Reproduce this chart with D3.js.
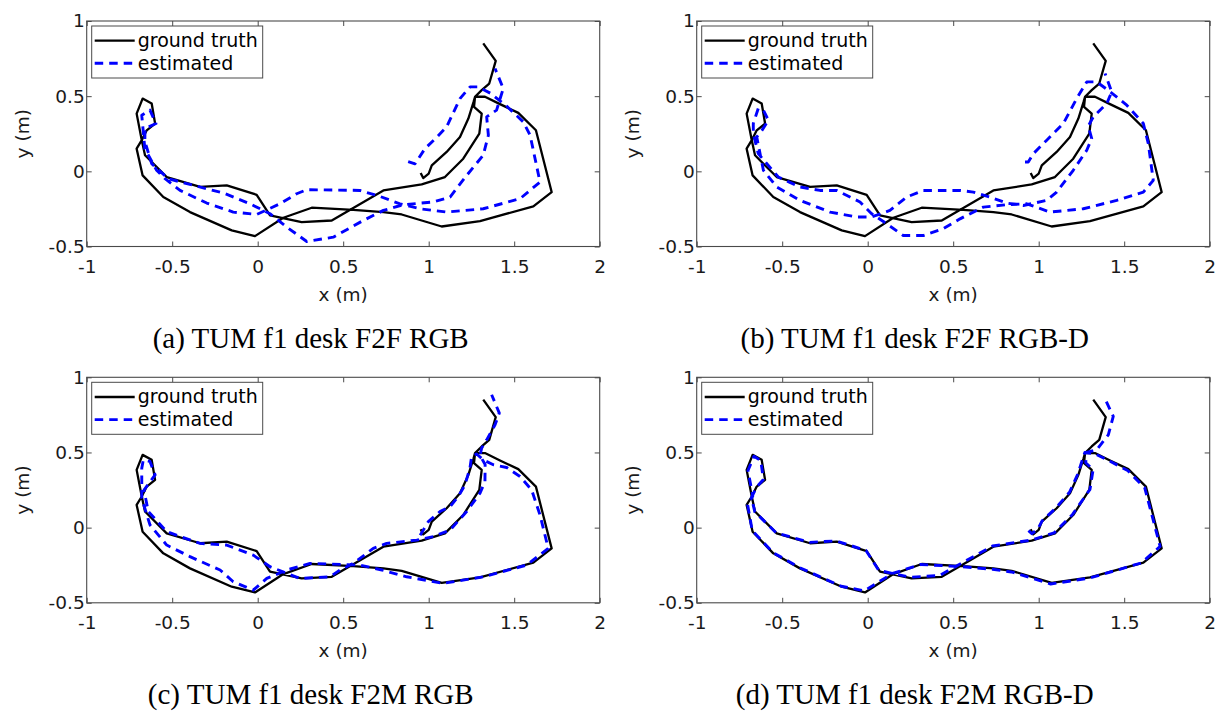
<!DOCTYPE html>
<html>
<head>
<meta charset="utf-8">
<script src="https://cdn.jsdelivr.net/npm/d3@7/dist/d3.min.js"></script>
<style>
  html, body { margin: 0; padding: 0; background: #fff; }
  svg { display: block; }
</style>
</head>
<body>
<script>
// Axis ticks and their labels
const xTicks = [-1, -0.5, 0, 0.5, 1, 1.5, 2];
const xTickLabels = ["-1", "-0.5", "0", "0.5", "1", "1.5", "2"];
const yTicks = [-0.5, 0, 0.5, 1];
const yTickLabels = ["-0.5", "0", "0.5", "1"];
const seriesNames = ["ground truth", "estimated"];
const captions = [
  "(a) TUM f1 desk F2F RGB",
  "(b) TUM f1 desk F2F RGB-D",
  "(c) TUM f1 desk F2M RGB",
  "(d) TUM f1 desk F2M RGB-D"
];

// Ground-truth camera trajectory (x, y in metres)
const groundTruth = [
  [0.953,-0.011],[0.968,-0.045],[1.0,-0.015],[1.018,0.04],[1.105,0.129],[1.183,0.229],
  [1.232,0.351],[1.262,0.46],[1.271,0.496],[1.329,0.496],[1.417,0.447],[1.524,0.389],
  [1.627,0.273],[1.719,-0.138],[1.612,-0.233],[1.3,-0.331],[1.076,-0.367],[0.842,-0.287],
  [0.735,-0.271],[0.559,-0.256],[0.316,-0.242],[0.15,-0.309],[-0.016,-0.431],[-0.152,-0.393],
  [-0.396,-0.271],[-0.552,-0.171],[-0.673,-0.027],[-0.708,0.151],[-0.678,0.207],[-0.708,0.384],
  [-0.673,0.484],[-0.62,0.451],[-0.60,0.318],[-0.649,0.273],[-0.678,0.207],[-0.659,0.107],
  [-0.532,-0.038],[-0.337,-0.104],[-0.181,-0.093],[-0.006,-0.156],[0.072,-0.293],[0.257,-0.338],
  [0.433,-0.327],[0.735,-0.127],[0.959,-0.087],[1.095,-0.038],[1.202,0.084],[1.296,0.251],
  [1.31,0.384],[1.265,0.429],[1.271,0.496],[1.31,0.54],[1.354,0.584],[1.392,0.735],[1.319,0.851]
];

// Estimated trajectory, frame-to-frame RGB
const estF2FRgb = [
  [0.88,0.065],[0.92,0.05],[0.978,0.151],[1.05,0.23],[1.105,0.296],[1.183,0.484],[1.242,0.562],
  [1.29,0.562],[1.36,0.52],[1.45,0.44],[1.553,0.329],[1.593,0.24],[1.651,-0.071],[1.534,-0.182],
  [1.319,-0.249],[1.105,-0.271],[0.949,-0.249],[0.832,-0.216],[0.715,-0.167],[0.598,-0.127],
  [0.287,-0.122],[0.228,-0.149],[0.13,-0.216],[-0.006,-0.287],[-0.143,-0.271],[-0.298,-0.211],
  [-0.454,-0.127],[-0.542,-0.049],[-0.591,0.007],[-0.66,0.15],[-0.678,0.373],[-0.63,0.407],
  [-0.595,0.318],[-0.659,0.284],[-0.66,0.2],[-0.62,0.051],[-0.523,-0.049],[-0.377,-0.093],
  [-0.201,-0.144],[-0.045,-0.216],[0.072,-0.282],[0.17,-0.371],[0.287,-0.467],[0.442,-0.438],
  [0.617,-0.327],[0.735,-0.26],[0.851,-0.222],[1.027,-0.204],[1.125,-0.171],[1.222,-0.027],
  [1.319,0.107],[1.349,0.24],[1.339,0.362],[1.397,0.407],[1.436,0.551],[1.388,0.684]
];

// Estimated trajectory, frame-to-frame RGB-D
const estF2FRgbd = [
  [0.92,0.062],[0.939,0.062],[0.969,0.118],[1.047,0.207],[1.144,0.318],[1.222,0.484],
  [1.281,0.595],[1.339,0.595],[1.417,0.53],[1.515,0.44],[1.612,0.318],[1.641,0.184],
  [1.67,-0.06],[1.612,-0.138],[1.456,-0.193],[1.261,-0.249],[1.066,-0.271],[0.93,-0.216],
  [0.813,-0.222],[0.676,-0.238],[0.54,-0.316],[0.442,-0.382],[0.325,-0.427],[0.208,-0.427],
  [0.111,-0.349],[0.023,-0.282],[-0.045,-0.204],[-0.181,-0.127],[-0.279,-0.127],[-0.396,-0.104],
  [-0.523,-0.038],[-0.64,0.118],[-0.669,0.25],[-0.669,0.318],[-0.64,0.418],[-0.61,0.407],
  [-0.581,0.34],[-0.62,0.27],[-0.649,0.229],[-0.61,0.007],[-0.532,-0.104],[-0.396,-0.193],
  [-0.22,-0.271],[-0.064,-0.304],[0.023,-0.304],[0.13,-0.26],[0.228,-0.171],[0.325,-0.127],
  [0.54,-0.127],[0.618,-0.138],[0.715,-0.171],[0.813,-0.211],[0.91,-0.227],[1.047,-0.193],
  [1.105,-0.138],[1.202,0.007],[1.281,0.14],[1.31,0.218],[1.29,0.3],[1.319,0.362],
  [1.398,0.451],[1.427,0.529],[1.388,0.651]
];

// Estimated trajectory, frame-to-model RGB
const estF2MRgb = [
  [0.95,-0.05],[0.998,0.04],[1.066,0.107],[1.125,0.14],[1.173,0.207],[1.212,0.284],
  [1.241,0.395],[1.251,0.473],[1.28,0.49],[1.32,0.45],[1.378,0.418],[1.456,0.4],
  [1.534,0.34],[1.602,0.251],[1.651,0.084],[1.699,-0.138],[1.573,-0.249],[1.319,-0.327],
  [1.085,-0.371],[0.871,-0.327],[0.72,-0.28],[0.598,-0.249],[0.501,-0.245],[0.306,-0.238],
  [0.17,-0.282],[0.053,-0.338],[-0.026,-0.416],[-0.143,-0.36],[-0.22,-0.282],[-0.396,-0.193],
  [-0.532,-0.116],[-0.63,0.018],[-0.678,0.195],[-0.678,0.395],[-0.669,0.451],[-0.63,0.44],
  [-0.60,0.351],[-0.665,0.25],[-0.64,0.107],[-0.532,-0.027],[-0.337,-0.105],[-0.181,-0.116],
  [-0.026,-0.183],[0.072,-0.26],[0.247,-0.338],[0.423,-0.327],[0.481,-0.282],[0.559,-0.238],
  [0.676,-0.138],[0.754,-0.105],[0.93,-0.083],[1.027,-0.06],[1.125,-0.016],[1.222,0.107],
  [1.3,0.229],[1.329,0.307],[1.33,0.42],[1.3,0.48],[1.31,0.53],[1.339,0.584],[1.388,0.684],
  [1.413,0.762],[1.368,0.884]
];

// Estimated trajectory, frame-to-model RGB-D
const estF2MRgbd = [
  [0.94,-0.02],[0.96,-0.04],[0.995,-0.01],[1.02,0.045],[1.1,0.13],[1.18,0.235],[1.228,0.355],
  [1.258,0.46],[1.27,0.5],[1.33,0.49],[1.42,0.44],[1.52,0.38],[1.62,0.265],[1.71,-0.125],
  [1.6,-0.235],[1.3,-0.335],[1.07,-0.375],[0.84,-0.295],[0.73,-0.277],[0.555,-0.26],
  [0.31,-0.245],[0.145,-0.305],[-0.02,-0.42],[-0.155,-0.39],[-0.4,-0.265],[-0.555,-0.165],
  [-0.675,-0.02],[-0.702,0.15],[-0.672,0.21],[-0.7,0.38],[-0.665,0.475],[-0.625,0.445],
  [-0.61,0.32],[-0.65,0.27],[-0.68,0.2],[-0.66,0.105],[-0.535,-0.035],[-0.34,-0.098],
  [-0.185,-0.088],[-0.01,-0.152],[0.065,-0.285],[0.25,-0.33],[0.42,-0.318],[0.73,-0.122],
  [0.955,-0.083],[1.09,-0.035],[1.198,0.088],[1.3,0.255],[1.318,0.385],[1.275,0.432],
  [1.28,0.5],[1.339,0.517],[1.407,0.617],[1.436,0.74],[1.388,0.857]
];

const estimates = [estF2FRgb, estF2FRgbd, estF2MRgb, estF2MRgbd];

const W = 1218, H = 711;
const plotW = 513, plotH = 225.5;
const origins = [[86.7, 21], [696.7, 21], [86.7, 377.3], [696.7, 377.3]];
const sans = "'DejaVu Sans', sans-serif";
const axisColor = "#4a4a4a";

const svg = d3.select("body").append("svg")
  .attr("width", W).attr("height", H)
  .attr("viewBox", `0 0 ${W} ${H}`);

function styleAxis(sel) {
  sel.select(".domain").remove();
  sel.selectAll(".tick line").attr("stroke", axisColor).attr("stroke-width", 1);
  sel.selectAll(".tick text")
    .attr("fill", "#1a1a1a")
    .style("font-family", sans)
    .style("font-size", "18.5px");
}

origins.forEach(([left, top], i) => {
  const x = d3.scaleLinear().domain([-1, 2]).range([left, left + plotW]);
  const y = d3.scaleLinear().domain([-0.5, 1]).range([top + plotH, top]);
  const g = svg.append("g");

  // white plotting area
  g.append("rect")
    .attr("x", left).attr("y", top)
    .attr("width", plotW).attr("height", plotH)
    .attr("fill", "#fff");

  // ticks point inward on all four sides
  g.append("g").attr("transform", `translate(0,${top + plotH})`)
    .call(d3.axisBottom(x).tickValues(xTicks)
      .tickFormat((d, k) => xTickLabels[k])
      .tickSizeInner(-5).tickSizeOuter(0).tickPadding(13))
    .call(styleAxis);
  g.append("g").attr("transform", `translate(0,${top})`)
    .call(d3.axisTop(x).tickValues(xTicks).tickFormat("")
      .tickSizeInner(-5).tickSizeOuter(0))
    .call(styleAxis);
  g.append("g").attr("transform", `translate(${left},0)`)
    .call(d3.axisLeft(y).tickValues(yTicks)
      .tickFormat((d, k) => yTickLabels[k])
      .tickSizeInner(-5).tickSizeOuter(0).tickPadding(2))
    .call(styleAxis);
  g.append("g").attr("transform", `translate(${left + plotW},0)`)
    .call(d3.axisRight(y).tickValues(yTicks).tickFormat("")
      .tickSizeInner(-5).tickSizeOuter(0))
    .call(styleAxis);

  // trajectories
  const line = d3.line().x(d => x(d[0])).y(d => y(d[1]));
  g.append("path")
    .datum(groundTruth)
    .attr("d", line)
    .attr("fill", "none")
    .attr("stroke", "#000")
    .attr("stroke-width", 2.3)
    .attr("stroke-linejoin", "round");
  g.append("path")
    .datum(estimates[i])
    .attr("d", line)
    .attr("fill", "none")
    .attr("stroke", "#0000ff")
    .attr("stroke-width", 2.9)
    .attr("stroke-dasharray", "8.5,6")
    .attr("stroke-linejoin", "round");

  // axes box
  g.append("rect")
    .attr("x", left).attr("y", top)
    .attr("width", plotW).attr("height", plotH)
    .attr("fill", "none")
    .attr("stroke", axisColor)
    .attr("stroke-width", 1.1);

  // legend
  const lg = g.append("g").attr("transform", `translate(${left + 5},${top + 5})`);
  lg.append("rect")
    .attr("width", 171).attr("height", 52)
    .attr("fill", "#fff")
    .attr("stroke", axisColor)
    .attr("stroke-width", 1);
  const styles = [
    { stroke: "#000", width: 2.3, dash: null },
    { stroke: "#0000ff", width: 2.9, dash: "8.5,6" }
  ];
  seriesNames.forEach((name, k) => {
    const ly = 14.7 + k * 22.6;
    lg.append("line")
      .attr("x1", 3).attr("x2", 43)
      .attr("y1", ly).attr("y2", ly)
      .attr("stroke", styles[k].stroke)
      .attr("stroke-width", styles[k].width)
      .attr("stroke-dasharray", styles[k].dash);
    lg.append("text")
      .attr("x", 46).attr("y", ly + 6.5)
      .attr("fill", "#000")
      .style("font-family", sans)
      .style("font-size", "19px")
      .text(name);
  });

  // axis titles
  g.append("text")
    .attr("x", left + plotW / 2)
    .attr("y", top + plotH + 54)
    .attr("text-anchor", "middle")
    .attr("fill", "#1a1a1a")
    .style("font-family", sans)
    .style("font-size", "18.5px")
    .text("x (m)");
  g.append("text")
    .attr("transform", `translate(${left - 58},${top + plotH / 2}) rotate(-90)`)
    .attr("text-anchor", "middle")
    .attr("fill", "#1a1a1a")
    .style("font-family", sans)
    .style("font-size", "18.5px")
    .text("y (m)");

  // caption
  g.append("text")
    .attr("x", left + (i % 2 === 0 ? 224 : 218))
    .attr("y", top + plotH + 101)
    .attr("text-anchor", "middle")
    .attr("fill", "#000")
    .style("font-family", "'Liberation Serif', 'Times New Roman', serif")
    .style("font-size", "29px")
    .text(captions[i]);
});
</script>
</body>
</html>
